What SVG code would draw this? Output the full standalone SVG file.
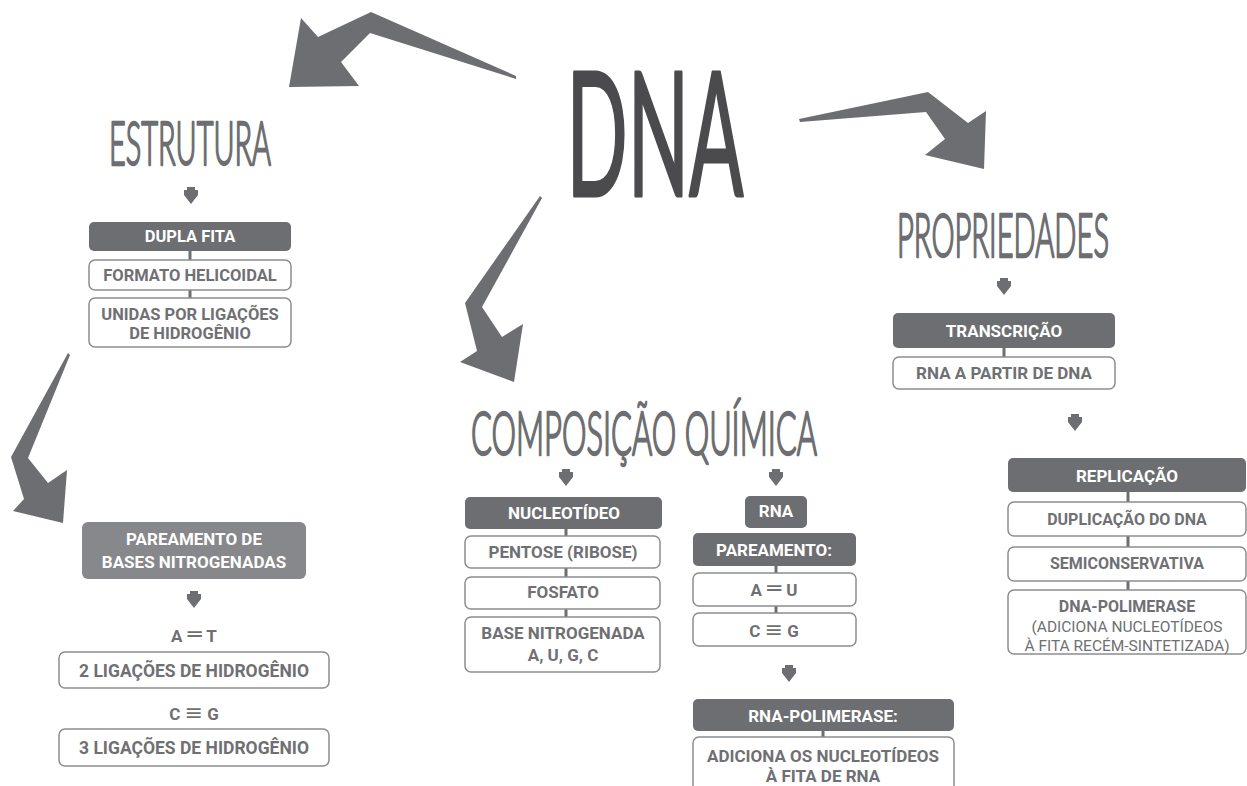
<svg xmlns="http://www.w3.org/2000/svg" width="1247" height="786" viewBox="0 0 1247 786">
<style>
.dark{fill:#6d6e71}
.light{fill:#87888b}
.out{fill:#ffffff;stroke:#8c8d90;stroke-width:1.5}
.tw{font-family:Roboto,"Liberation Sans",sans-serif;font-weight:700;fill:#ffffff;text-anchor:middle}
.tg{font-family:Roboto,"Liberation Sans",sans-serif;font-weight:700;fill:#6f7073;text-anchor:middle}
.tr{font-family:Roboto,"Liberation Sans",sans-serif;font-weight:400;fill:#6f7073;text-anchor:middle}
.sym{font-family:"DejaVu Sans",sans-serif;font-weight:400}
.title{font-family:Lato,"Liberation Sans",sans-serif;font-weight:300;fill:#6d6e71;stroke:#6d6e71;stroke-width:2.4;stroke-linejoin:round;text-anchor:middle}
.big{fill:#6d6e71}
.conn{stroke:#6d6e71;stroke-width:3}
</style>
<defs>
<path id="dn" d="M-4,0 H4 V3 H7 V8 L0,17 L-7,8 V3 H-4 Z" fill="#6d6e71"/>
</defs>

<g id="connectors">
<path class="big" d="M516,76 L371,12 L318,37 L301,18 L289,87 L359,86 L341,62 L370,33 L516,79 Z"/>
<path class="big" d="M799,119 L928,92 L968,123 L986,111 L984,169 L925,155 L945,139 L926,112 L800,122 Z"/>
<path class="big" d="M540,196 L465,303 L477,351 L460,362 L514,382 L523,324 L502,337 L482,307 L542,198 Z"/>
<path class="big" d="M68,353 L11,457 L24,499 L13,511 L63,523 L67,470 L48,483 L28,458 L70,355 Z"/>
<use href="#dn" x="191" y="187"/>
<use href="#dn" x="1004" y="278"/>
<use href="#dn" x="1075" y="414"/>
<use href="#dn" x="194" y="591"/>
<use href="#dn" x="566" y="469"/>
<use href="#dn" x="776" y="469"/>
<use href="#dn" x="789" y="665"/>
<line class="conn" x1="190" y1="250" x2="190" y2="261"/>
<line class="conn" x1="190" y1="289" x2="190" y2="299"/>
<line class="conn" x1="566" y1="528" x2="566" y2="537"/>
<line class="conn" x1="566" y1="567" x2="566" y2="578"/>
<line class="conn" x1="566" y1="608" x2="566" y2="618"/>
<line class="conn" x1="776" y1="565" x2="776" y2="574"/>
<line class="conn" x1="776" y1="605" x2="776" y2="614"/>
<line class="conn" x1="823" y1="730" x2="823" y2="738"/>
<line class="conn" x1="1004" y1="347" x2="1004" y2="358"/>
<line class="conn" x1="1128" y1="491" x2="1128" y2="503"/>
<line class="conn" x1="1128" y1="535" x2="1128" y2="548"/>
<line class="conn" x1="1128" y1="580" x2="1128" y2="591"/>
</g>

<g id="dna">
<text transform="translate(655,196) scale(0.5,1)" x="0" y="0" text-anchor="middle" font-family="Lato, 'Liberation Sans', sans-serif" font-weight="400" font-size="172" fill="#4b4b4d" stroke="#4b4b4d" stroke-width="3" stroke-linejoin="round" textLength="354" lengthAdjust="spacingAndGlyphs">DNA</text>
</g>

<g id="estrutura">
<text class="title" transform="translate(190,165) scale(0.5,1)" x="0" y="0" font-size="61" textLength="324" lengthAdjust="spacingAndGlyphs">ESTRUTURA</text>
</g>

<g id="propriedades">
<text class="title" transform="translate(1003,257) scale(0.5,1)" x="0" y="0" font-size="62" textLength="424" lengthAdjust="spacingAndGlyphs">PROPRIEDADES</text>
</g>

<g id="composicao">
<text class="title" transform="translate(644,455) scale(0.5,1)" x="0" y="0" font-size="62" textLength="692" lengthAdjust="spacingAndGlyphs">COMPOSIÇÃO QUÍMICA</text>
</g>

<g id="dupla-fita">
<rect class="dark" x="89" y="222" width="202" height="29" rx="5"/>
<text class="tw" x="190" y="242" font-size="16.5">DUPLA FITA</text>
</g>
<g id="formato">
<rect class="out" x="89" y="260" width="202" height="30" rx="6"/>
<text class="tg" x="190" y="281" font-size="16.5">FORMATO HELICOIDAL</text>
</g>
<g id="unidas">
<rect class="out" x="89" y="298" width="202" height="49" rx="6"/>
<text class="tg" x="190" y="320" font-size="16.5">UNIDAS POR LIGAÇÕES</text>
<text class="tg" x="190" y="338.5" font-size="16.5">DE HIDROGÊNIO</text>
</g>

<g id="pareamento-bases">
<rect class="light" x="82" y="522" width="224" height="57" rx="6"/>
<text class="tw" x="194" y="545" font-size="17">PAREAMENTO DE</text>
<text class="tw" x="194" y="568" font-size="17">BASES NITROGENADAS</text>
</g>
<g id="at">
<text class="tg" x="194" y="642" font-size="17">A <tspan class="sym" font-size="23" dx="1">═</tspan><tspan dx="1"> T</tspan></text>
</g>
<g id="lig2">
<rect class="out" x="59" y="652" width="270" height="36" rx="6"/>
<text class="tg" x="194" y="677" font-size="17.5">2 LIGAÇÕES DE HIDROGÊNIO</text>
</g>
<g id="cg">
<text class="tg" x="194" y="720" font-size="17">C <tspan class="sym" font-size="22">≡</tspan> G</text>
</g>
<g id="lig3">
<rect class="out" x="59" y="729" width="270" height="37" rx="6"/>
<text class="tg" x="194" y="754" font-size="17.5">3 LIGAÇÕES DE HIDROGÊNIO</text>
</g>

<g id="nucleotideo">
<rect class="dark" x="465" y="497" width="197" height="32" rx="5"/>
<text class="tw" x="564" y="519" font-size="17">NUCLEOTÍDEO</text>
</g>
<g id="pentose">
<rect class="out" x="465" y="536" width="195" height="32" rx="6"/>
<text class="tg" x="563" y="558" font-size="17">PENTOSE (RIBOSE)</text>
</g>
<g id="fosfato">
<rect class="out" x="465" y="577" width="195" height="32" rx="6"/>
<text class="tg" x="563" y="598" font-size="17">FOSFATO</text>
</g>
<g id="base-nitrogenada">
<rect class="out" x="465" y="617" width="195" height="55" rx="6"/>
<text class="tg" x="563" y="639" font-size="17">BASE NITROGENADA</text>
<text class="tg" x="563" y="661" font-size="17">A, U, G, C</text>
</g>

<g id="rna">
<rect class="dark" x="745" y="496" width="62" height="32" rx="5"/>
<text class="tw" x="776" y="517" font-size="17">RNA</text>
</g>
<g id="pareamento">
<rect class="dark" x="693" y="533" width="163" height="33" rx="5"/>
<text class="tw" x="774" y="555.5" font-size="17">PAREAMENTO:</text>
</g>
<g id="au">
<rect class="out" x="693" y="573" width="163" height="33" rx="6"/>
<text class="tg" x="774" y="596" font-size="17">A <tspan class="sym" font-size="23" dx="1">═</tspan><tspan dx="1"> U</tspan></text>
</g>
<g id="cg-rna">
<rect class="out" x="693" y="613" width="163" height="33" rx="6"/>
<text class="tg" x="774" y="636.5" font-size="17">C <tspan class="sym" font-size="22">≡</tspan> G</text>
</g>
<g id="rna-polimerase">
<rect class="dark" x="693" y="699" width="261" height="32" rx="5"/>
<text class="tw" x="823" y="721.5" font-size="17">RNA-POLIMERASE:</text>
</g>
<g id="adiciona">
<rect class="out" x="693" y="737" width="261" height="62" rx="6"/>
<text class="tg" x="823" y="761.5" font-size="17">ADICIONA OS NUCLEOTÍDEOS</text>
<text class="tg" x="823" y="781.5" font-size="17">À FITA DE RNA</text>
</g>

<g id="transcricao">
<rect class="dark" x="893" y="313" width="222" height="35" rx="5"/>
<text class="tw" x="1004" y="336.5" font-size="17">TRANSCRIÇÃO</text>
</g>
<g id="rna-a-partir">
<rect class="out" x="893" y="357" width="222" height="32" rx="6"/>
<text class="tg" x="1004" y="379" font-size="17">RNA A PARTIR DE DNA</text>
</g>

<g id="replicacao">
<rect class="dark" x="1008" y="458" width="238" height="34" rx="5"/>
<text class="tw" x="1127" y="482" font-size="17">REPLICAÇÃO</text>
</g>
<g id="duplicacao">
<rect class="out" x="1008" y="502" width="238" height="34" rx="6"/>
<text class="tg" x="1127" y="525" font-size="16">DUPLICAÇÃO DO DNA</text>
</g>
<g id="semiconservativa">
<rect class="out" x="1008" y="547" width="238" height="34" rx="6"/>
<text class="tg" x="1127" y="569" font-size="16">SEMICONSERVATIVA</text>
</g>
<g id="dna-polimerase">
<rect class="out" x="1008" y="590" width="238" height="64" rx="6"/>
<text class="tg" x="1127" y="612" font-size="16">DNA-POLIMERASE</text>
<text class="tr" x="1127" y="632" font-size="15.5">(ADICIONA NUCLEOTÍDEOS</text>
<text class="tr" x="1127" y="651" font-size="15.5">À FITA RECÉM-SINTETIZADA)</text>
</g>
</svg>
